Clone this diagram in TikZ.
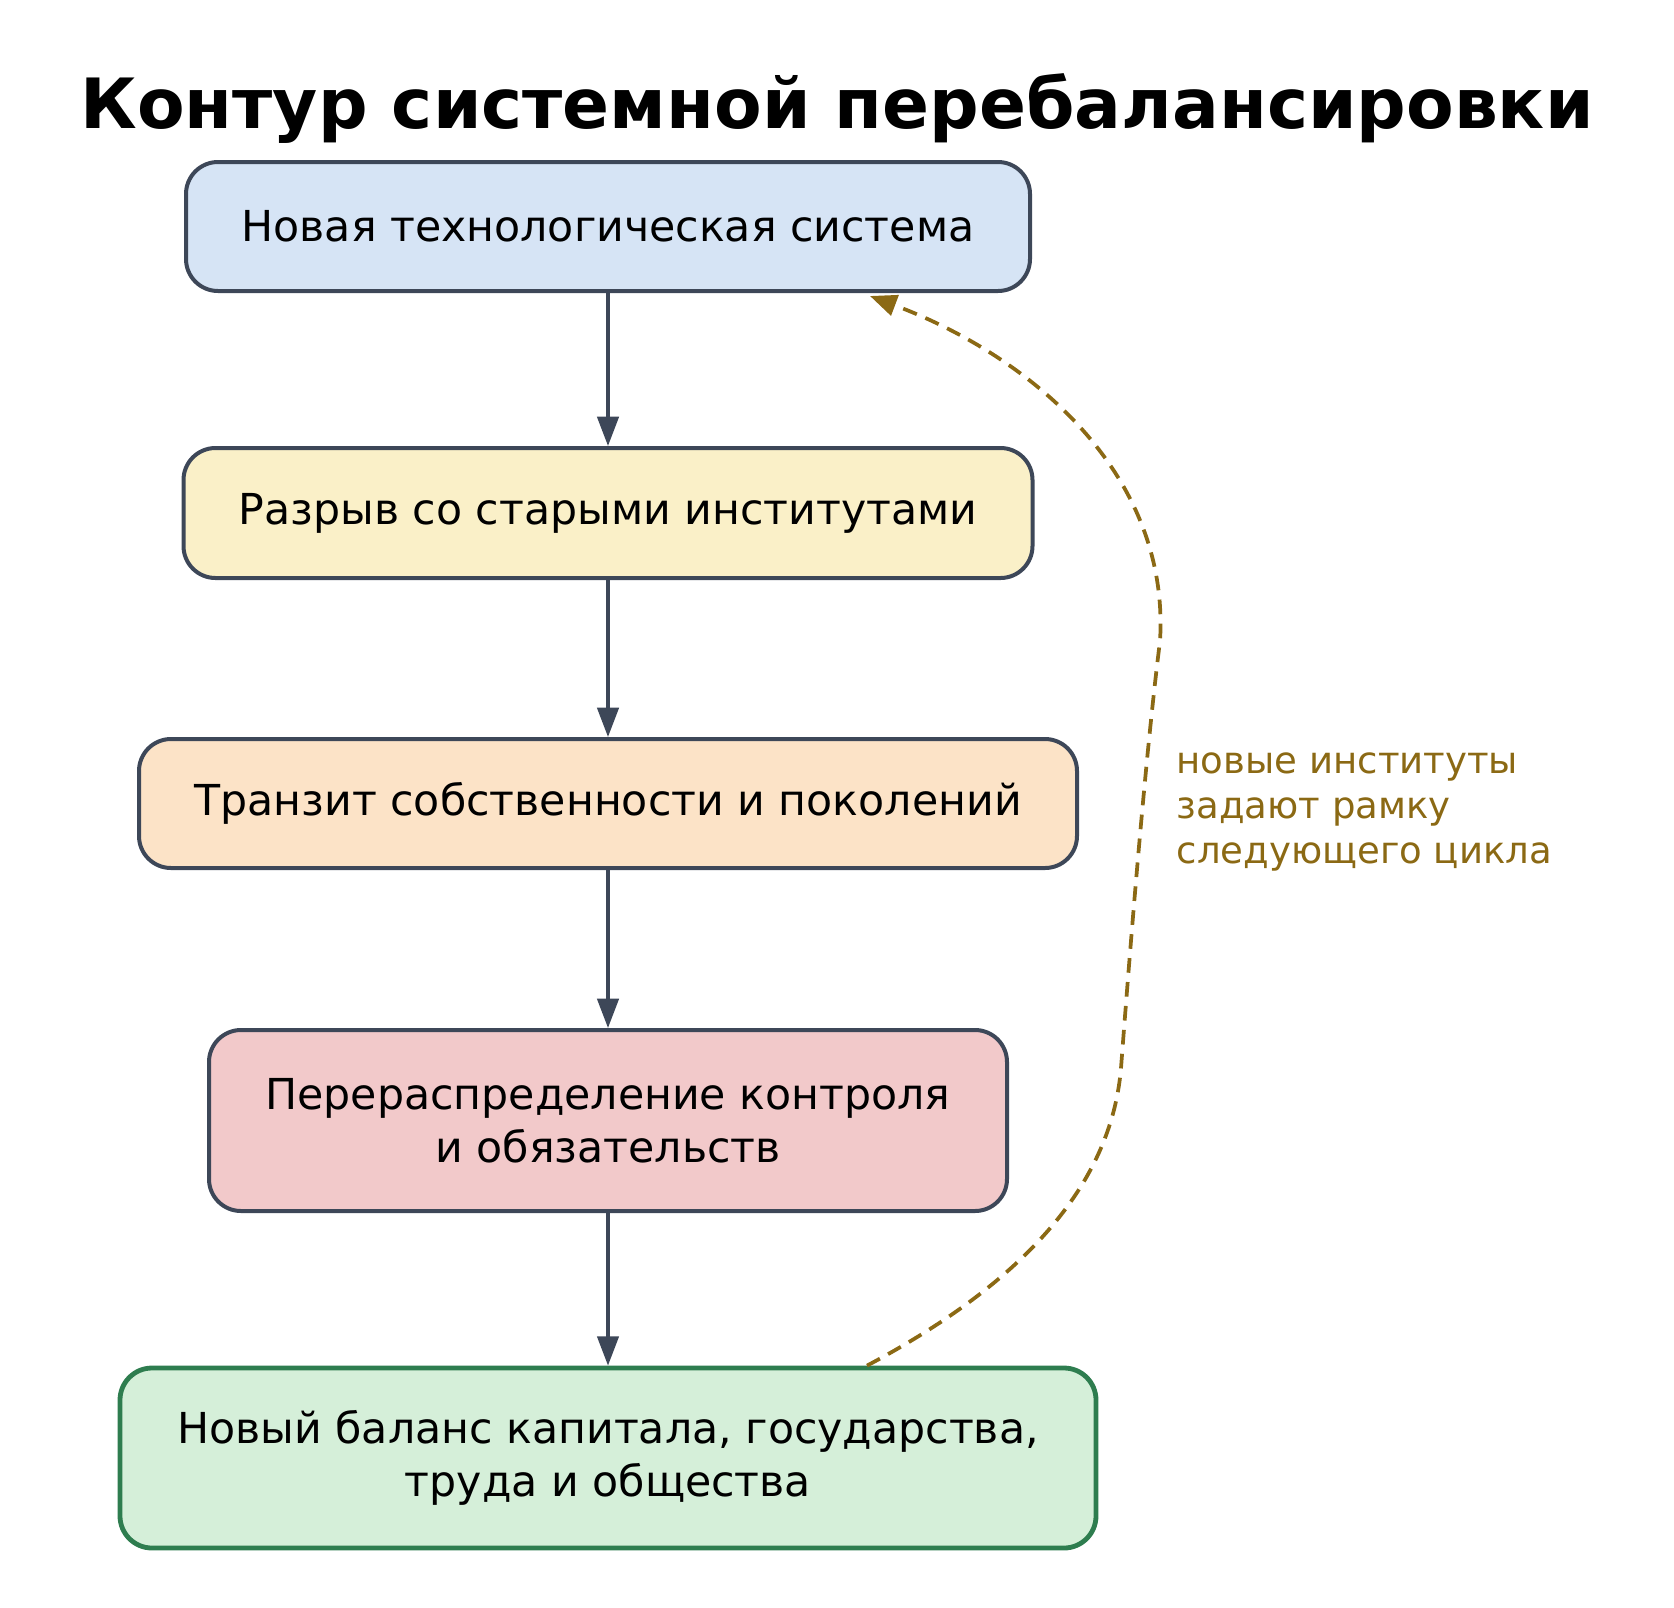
\documentclass[tikz,border=0pt]{standalone}
\usepackage{fontspec}
\setmainfont{DejaVu Sans}
\usetikzlibrary{arrows.meta,calc}
\definecolor{edgec}{HTML}{3D4758}
\definecolor{fillA}{HTML}{D6E4F5}
\definecolor{fillB}{HTML}{FAF0C8}
\definecolor{fillC}{HTML}{FCE3C7}
\definecolor{fillD}{HTML}{F2C9CA}
\definecolor{fillE}{HTML}{D5EFD9}
\definecolor{greenb}{HTML}{2E7D4F}
\definecolor{brownc}{HTML}{8B6914}
\tikzset{
  box/.style={draw=edgec, line width=3pt, rounded corners=24pt, inner sep=0pt,
    align=center, font=\fontsize{32}{40}\selectfont, text=black},
  flow/.style={draw=edgec, line width=2.6pt, -{Triangle[length=22pt,width=16pt]}},
  loopback/.style={draw=brownc, line width=2.8pt, dash pattern=on 11pt off 7pt,
    -{Triangle[length=20pt,width=16pt]}},
}
\begin{document}
\begin{tikzpicture}[x=0.75pt,y=-0.75pt]
\useasboundingbox (0,0) rectangle (1674,1607);
\node[font=\fontsize{52}{60}\bfseries\selectfont] (title) at (837,109) {Контур системной перебалансировки};
\node[box, fill=fillA, minimum width=633pt, minimum height=96.75pt] (b1) at (608,226.5) {Новая технологическая система};
\node[box, fill=fillB, minimum width=636.75pt, minimum height=97.5pt] (b2) at (608,513) {Разрыв со старыми институтами};
\node[box, fill=fillC, minimum width=703.5pt, minimum height=96.75pt] (b3) at (608,803.5) {Транзит собственности и поколений};
\node[box, fill=fillD, minimum width=598.5pt, minimum height=135.75pt] (b4) at (608,1120.5) {Перераспределение контроля\\и обязательств};
\node[box, draw=greenb, line width=3.6pt, fill=fillE, minimum width=732pt, minimum height=135pt] (b5) at (608,1458) {Новый баланс капитала, государства,\\труда и общества};
\node[anchor=west, align=left, text=brownc, font=\fontsize{27.8}{34}\selectfont] (lbl) at (1172,812) {новые институты\\задают рамку\\следующего цикла};
\draw[flow] (b1) -- (b2);
\draw[flow] (b2) -- (b3);
\draw[flow] (b3) -- (b4);
\draw[flow] (b4) -- (b5);
\draw[loopback] ($(b5.north)+(259,0)$) .. controls (1000,1295) and (1110,1200) .. (1121,1068)
  .. controls (1130,950) and (1145,760) .. (1160,641)
  .. controls (1170,480) and (1040,360) .. ($(b1.south)+(262,3)$);
\end{tikzpicture}
\end{document}
